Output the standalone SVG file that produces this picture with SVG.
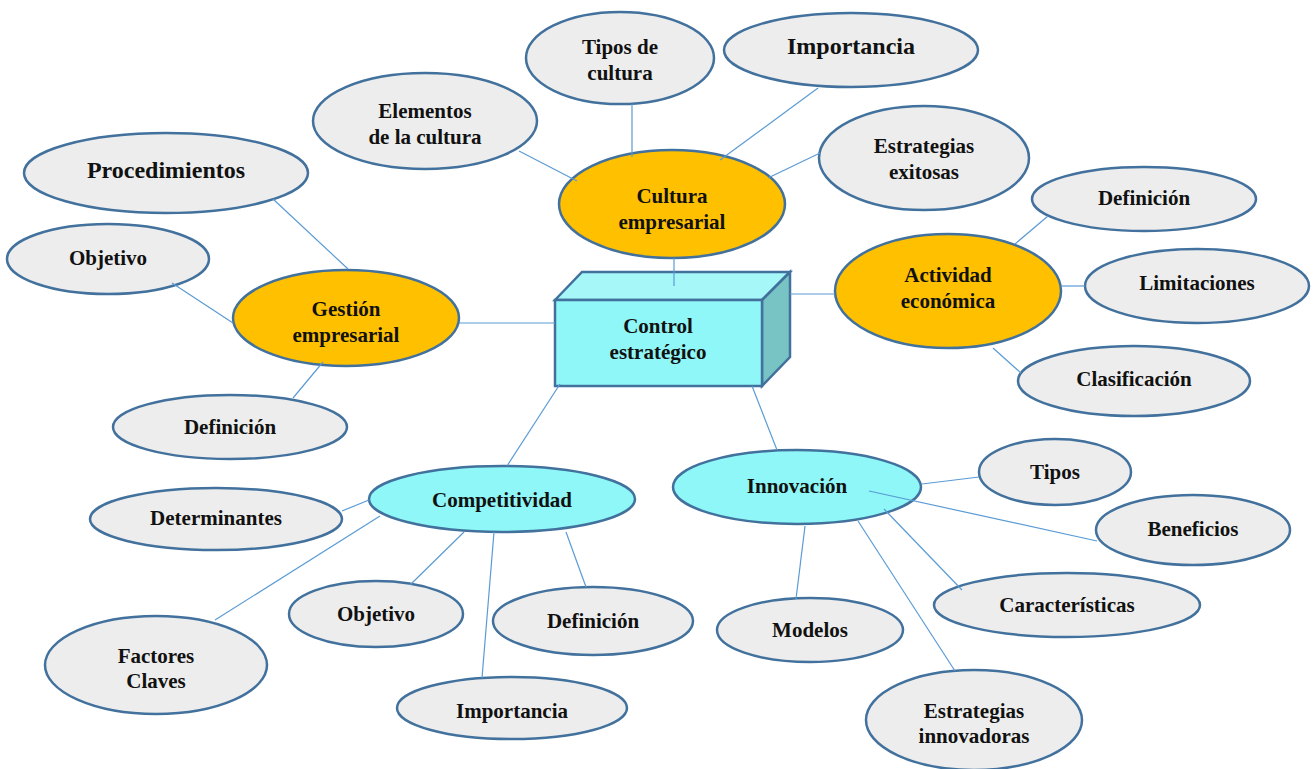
<svg xmlns="http://www.w3.org/2000/svg" width="1316" height="769" viewBox="0 0 1316 769">
<style>
.n{stroke:#41719C;stroke-width:2.5}
.g{fill:#EDEDED}
.o{fill:#FFC000}
.c{fill:#8FF7F7}
text{font-family:"Liberation Serif","Times New Roman",serif;font-weight:bold;font-size:21px;fill:#111;text-anchor:middle}
.big{font-size:24px}
#connectors line{stroke:#5B9BD5;stroke-width:1.2}
</style>
<rect width="1316" height="769" fill="#fff"/>
<g id="tipos-cultura"><ellipse class="n g" cx="620" cy="58" rx="94" ry="46"/><text x="620" y="54">Tipos de</text><text x="620" y="80">cultura</text></g>
<g id="importancia-top"><ellipse class="n g" cx="851" cy="50" rx="127" ry="37"/><text class="big" x="851" y="54">Importancia</text></g>
<g id="elementos"><ellipse class="n g" cx="425" cy="121" rx="112" ry="48"/><text x="425" y="118">Elementos</text><text x="425" y="144">de la cultura</text></g>
<g id="estrategias-exitosas"><ellipse class="n g" cx="924" cy="158" rx="105" ry="52"/><text x="924" y="153">Estrategias</text><text x="924" y="179">exitosas</text></g>
<g id="cultura"><ellipse class="n o" cx="672" cy="204" rx="113" ry="54"/><text x="672" y="203">Cultura</text><text x="672" y="229">empresarial</text></g>
<g id="procedimientos"><ellipse class="n g" cx="166" cy="173" rx="142" ry="40"/><text class="big" x="166" y="178">Procedimientos</text></g>
<g id="objetivo-left"><ellipse class="n g" cx="108" cy="259" rx="101" ry="35"/><text x="108" y="265">Objetivo</text></g>
<g id="gestion"><ellipse class="n o" cx="346" cy="318" rx="113" ry="48"/><text x="346" y="316">Gestión</text><text x="346" y="342">empresarial</text></g>
<g id="definicion-left"><ellipse class="n g" cx="230" cy="427" rx="117" ry="32"/><text x="230" y="434">Definición</text></g>
<g id="control">
<polygon points="555,300 582,272 790,272 762,300" fill="#A6F8F8" class="n"/>
<polygon points="762,300 790,272 790,357 762,386" fill="#78C4C4" class="n"/>
<rect x="555" y="300" width="207" height="86" fill="#8FF7F7" class="n"/>
<text x="658" y="333">Control</text><text x="658" y="359">estratégico</text></g>
<g id="actividad"><ellipse class="n o" cx="948" cy="291" rx="113" ry="57"/><text x="948" y="282">Actividad</text><text x="948" y="308">económica</text></g>
<g id="definicion-right"><ellipse class="n g" cx="1144" cy="199" rx="112" ry="32"/><text x="1144" y="205">Definición</text></g>
<g id="limitaciones"><ellipse class="n g" cx="1197" cy="286" rx="112" ry="37"/><text x="1197" y="290">Limitaciones</text></g>
<g id="clasificacion"><ellipse class="n g" cx="1134" cy="381" rx="116" ry="35"/><text x="1134" y="386">Clasificación</text></g>
<g id="competitividad"><ellipse class="n c" cx="502" cy="499" rx="133" ry="33"/><text x="502" y="507">Competitividad</text></g>
<g id="determinantes"><ellipse class="n g" cx="216" cy="519" rx="126" ry="31"/><text x="216" y="525">Determinantes</text></g>
<g id="factores"><ellipse class="n g" cx="156" cy="665" rx="111" ry="49"/><text x="156" y="663">Factores</text><text x="156" y="688">Claves</text></g>
<g id="objetivo-bottom"><ellipse class="n g" cx="376" cy="614" rx="87" ry="33"/><text x="376" y="621">Objetivo</text></g>
<g id="definicion-bottom"><ellipse class="n g" cx="593" cy="621" rx="100" ry="34"/><text x="593" y="628">Definición</text></g>
<g id="importancia-bottom"><ellipse class="n g" cx="512" cy="708" rx="115" ry="31"/><text x="512" y="718">Importancia</text></g>
<g id="innovacion"><ellipse class="n c" cx="797" cy="487" rx="124" ry="37"/><text x="797" y="493">Innovación</text></g>
<g id="tipos"><ellipse class="n g" cx="1055" cy="472" rx="76" ry="33"/><text x="1055" y="479">Tipos</text></g>
<g id="beneficios"><ellipse class="n g" cx="1193" cy="530" rx="97" ry="35"/><text x="1193" y="536">Beneficios</text></g>
<g id="caracteristicas"><ellipse class="n g" cx="1067" cy="605" rx="133" ry="32"/><text x="1067" y="612">Características</text></g>
<g id="modelos"><ellipse class="n g" cx="810" cy="630" rx="93" ry="32"/><text x="810" y="637">Modelos</text></g>
<g id="estrategias-innovadoras"><ellipse class="n g" cx="974" cy="720" rx="108" ry="50"/><text x="974" y="718">Estrategias</text><text x="974" y="743">innovadoras</text></g>
<g id="connectors">
<line x1="674" y1="258" x2="674" y2="286"/>
<line x1="632" y1="104" x2="632" y2="157"/>
<line x1="818" y1="88" x2="720" y2="160"/>
<line x1="519" y1="151" x2="577" y2="181"/>
<line x1="820" y1="153" x2="768" y2="178"/>
<line x1="273" y1="199" x2="348" y2="269"/>
<line x1="172" y1="283" x2="233" y2="323"/>
<line x1="293" y1="398" x2="323" y2="362"/>
<line x1="459" y1="323" x2="555" y2="323"/>
<line x1="790" y1="294" x2="835" y2="294"/>
<line x1="1015" y1="244" x2="1048" y2="216"/>
<line x1="1061" y1="286" x2="1085" y2="286"/>
<line x1="993" y1="348" x2="1021" y2="373"/>
<line x1="560" y1="384" x2="507" y2="466"/>
<line x1="752" y1="386" x2="777" y2="450"/>
<line x1="342" y1="511" x2="369" y2="500"/>
<line x1="380" y1="516" x2="215" y2="620"/>
<line x1="464" y1="532" x2="410" y2="585"/>
<line x1="566" y1="532" x2="586" y2="587"/>
<line x1="494" y1="532" x2="482" y2="678"/>
<line x1="922" y1="484" x2="979" y2="477"/>
<line x1="869" y1="491" x2="1097" y2="541"/>
<line x1="884" y1="509" x2="962" y2="590"/>
<line x1="805" y1="526" x2="796" y2="599"/>
<line x1="858" y1="521" x2="955" y2="671"/>
</g>
</svg>
